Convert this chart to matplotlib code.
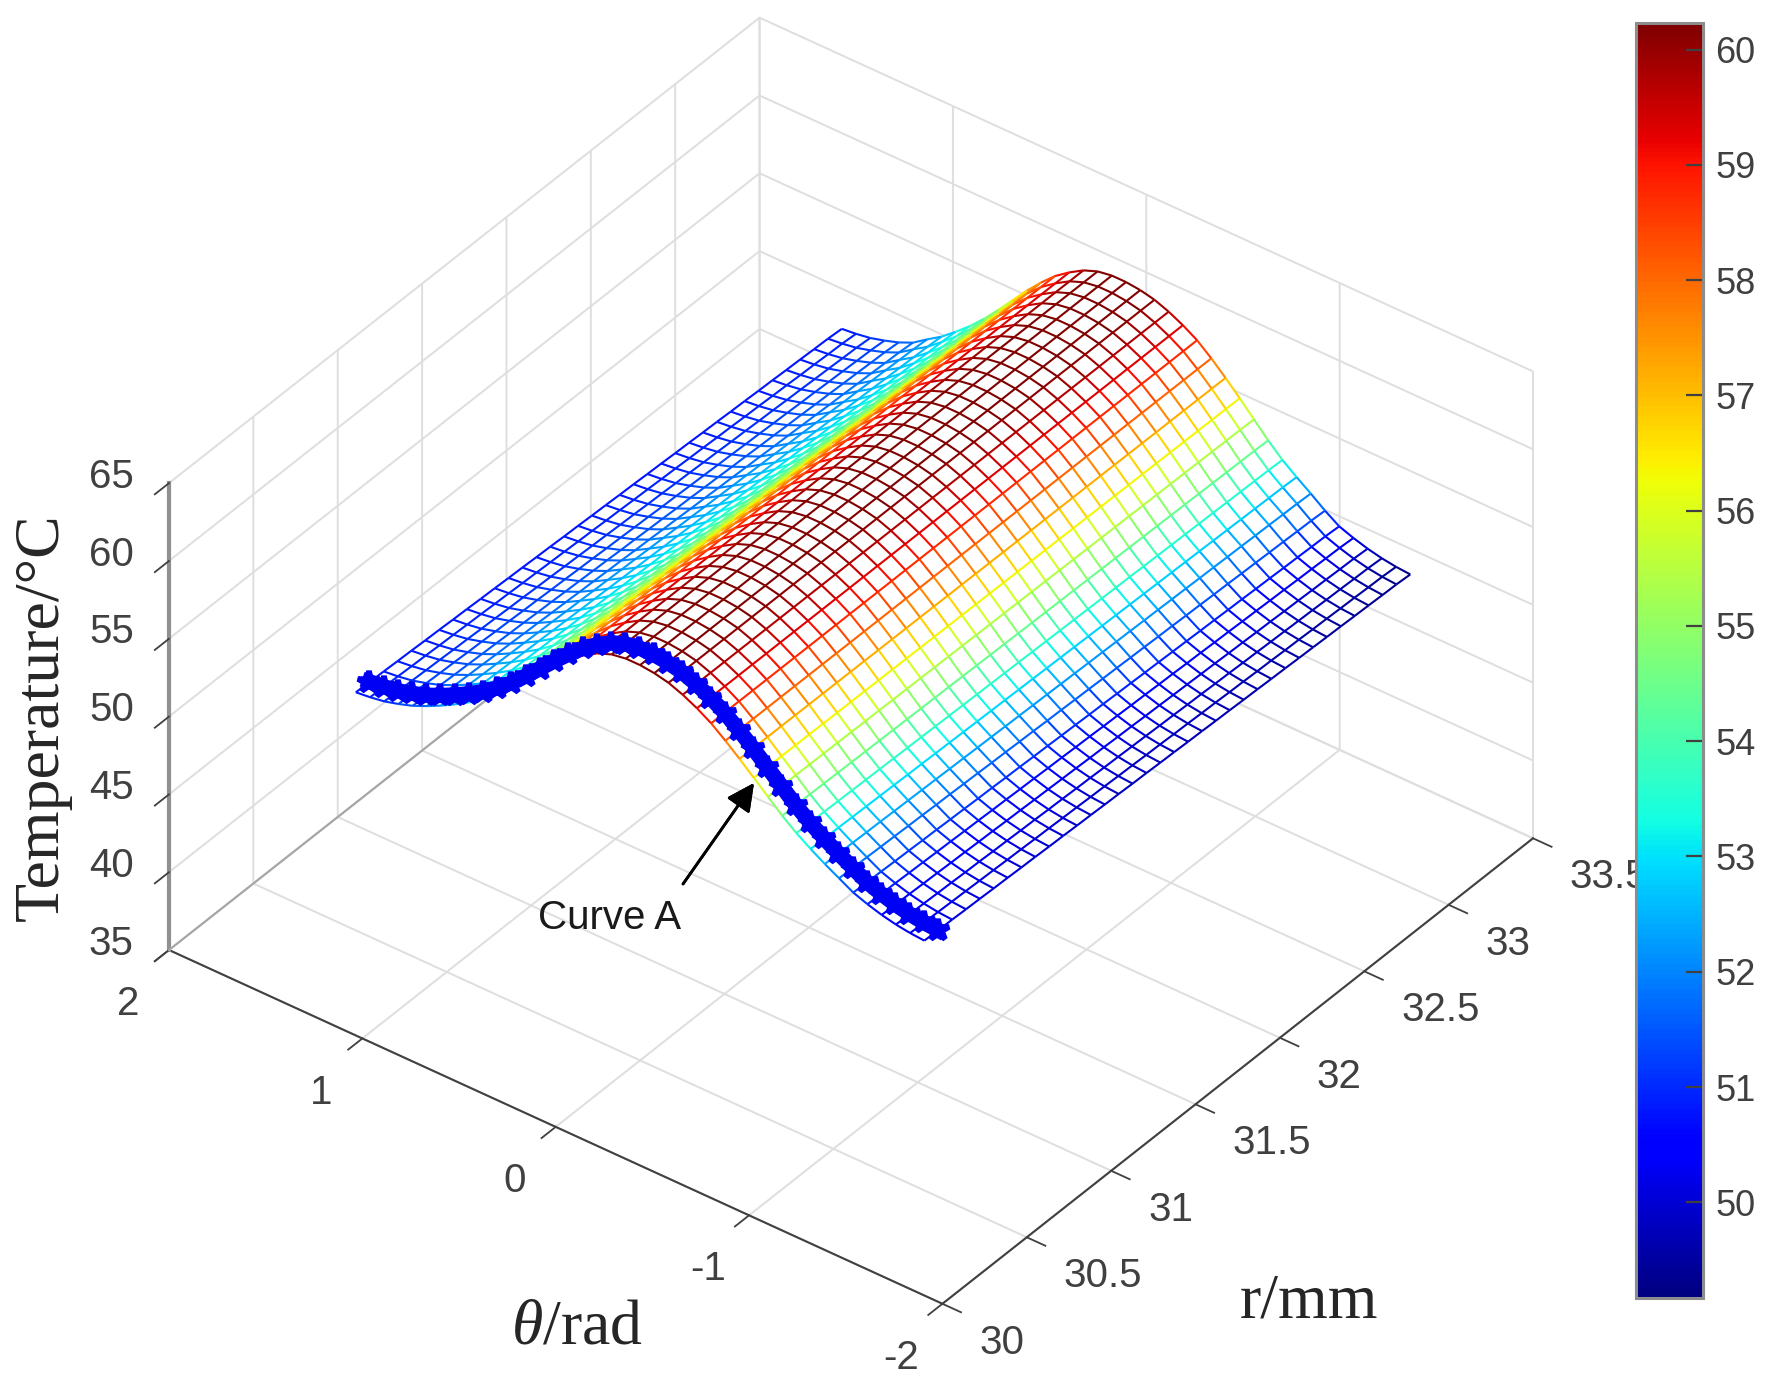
#!/usr/bin/env python3
"""Temperature mesh over r and theta with Curve A marked."""

from __future__ import annotations

import matplotlib

matplotlib.use("Agg")
import matplotlib.pyplot as plt
import numpy as np
from matplotlib.cm import ScalarMappable
from matplotlib.colors import Normalize
from mpl_toolkits.mplot3d import proj3d
from mpl_toolkits.mplot3d.art3d import Line3DCollection

R_MM = [30.5, 30.582, 30.665, 30.747, 30.829, 30.911, 30.994, 31.076, 31.158, 31.24, 31.323, 31.405,
        31.487, 31.57, 31.652, 31.734, 31.817, 31.899, 31.981, 32.063, 32.146, 32.228, 32.31, 32.393,
        32.475, 32.557, 32.64, 32.722, 32.804, 32.886, 32.969, 33.051, 33.133, 33.216, 33.298, 33.38]
THETA_RAD = [-1.47, -1.3965, -1.323, -1.2495, -1.176, -1.1025, -1.029, -0.9555, -0.882, -0.8085,
             -0.735, -0.6615, -0.588, -0.5145, -0.441, -0.3675, -0.294, -0.2205, -0.147, -0.0735,
             0.0, 0.0735, 0.147, 0.2205, 0.294, 0.3675, 0.441, 0.5145, 0.588, 0.6615,
             0.735, 0.8085, 0.882, 0.9555, 1.029, 1.1025, 1.176, 1.2495, 1.323, 1.3965, 1.47]
TEMP_C = [51.05, 51.12, 51.25, 51.45, 51.72, 52.05, 52.55, 53.05, 53.6, 54.2,
          54.9, 55.7, 56.5, 57.3, 58.05, 58.75, 59.3, 59.75, 60.1, 60.3,
          60.4, 60.4, 60.25, 59.9, 59.35, 58.7, 57.9, 57.05, 56.15, 55.25,
          54.4, 53.65, 53.0, 52.45, 51.95, 51.5, 51.1, 50.8, 50.55, 50.4, 50.3]
# colours read along the near edge, they sit a bit off the heights in the tails
COLOUR_C = [50.2, 50.25, 50.35, 50.55, 50.85, 51.25, 51.8, 52.4, 53.0, 53.7,
            54.5, 55.4, 56.3, 57.2, 58.05, 58.75, 59.3, 59.75, 60.1, 60.3,
            60.4, 60.4, 60.25, 59.9, 59.35, 58.7, 57.9, 57.05, 56.15, 55.25,
            54.4, 53.65, 53.05, 52.6, 52.2, 51.8, 51.5, 51.25, 51.05, 50.9, 50.8]
COLOUR_WEIGHT = [1.0, 1.0, 0.9, 0.8, 0.7, 0.6, 0.5, 0.4, 0.3, 0.2, 0.1] + [0.0] * 30
TEMP_WEIGHT = [1.2, 1.2, 1.2, 1.2, 1.2, 1.2, 1.1, 0.9, 0.8, 0.7, 0.55, 0.4, 0.25, 0.15, 0.05,
               0.0, 0.0, 0.0, 0.0, 0.0, 0.0, 0.0, 0.0, 0.0, 0.0, 0.0,
               0.05, 0.15, 0.3, 0.45, 0.6, 0.75, 0.9, 1.1, 1.2, 1.4, 1.4, 1.4, 1.4, 1.4, 1.4]
FAR_DROP = [0.0, 0.03, 0.05, 0.08, 0.1, 0.13, 0.15, 0.18, 0.2, 0.23, 0.25, 0.28,
            0.3, 0.33, 0.35, 0.38, 0.4, 0.43, 0.45, 0.48, 0.5, 0.53, 0.55, 0.58,
            0.6, 0.63, 0.65, 0.68, 0.7, 0.73, 0.75, 0.78, 0.8, 0.83, 0.85, 0.9]
CURVE_R = 30.58

R_TICKS = [30, 30.5, 31, 31.5, 32, 32.5, 33, 33.5]
THETA_TICKS = [-2, -1, 0, 1, 2]
TEMP_TICKS = [35, 40, 45, 50, 55, 60, 65]
CBAR_TICKS = [50, 51, 52, 53, 54, 55, 56, 57, 58, 59, 60]
CBAR_MIN = 49.17
CBAR_MAX = 60.23

W, H = 1770, 1382
TICK_GREY = "#404040"
GRID_GREY = "#dedede"


def mesh_segments(r, theta, temp, colour):
    segs, vals = [], []
    for i in range(len(r)):
        for j in range(len(theta)):
            if j + 1 < len(theta):
                segs.append([(r[i], theta[j], temp[i, j]), (r[i], theta[j + 1], temp[i, j + 1])])
                vals.append(0.5 * (colour[i, j] + colour[i, j + 1]))
            if i + 1 < len(r):
                segs.append([(r[i], theta[j], temp[i, j]), (r[i + 1], theta[j], temp[i + 1, j])])
                vals.append(0.5 * (colour[i, j] + colour[i + 1, j]))
    return segs, np.array(vals)


def corner_px(ax, x, y, z):
    px, py, _ = proj3d.proj_transform(x, y, z, ax.get_proj())
    return ax.transData.transform((px, py))


def fit_axes(fig, ax):
    """Scale and shift the 3D box onto the corners measured in the picture."""
    left_target = np.array([169.0, H - 950.0])
    right_target = np.array([1533.0, H - 838.0])
    fig.canvas.draw()
    left = corner_px(ax, 30, 2, 35)
    right = corner_px(ax, 33.5, -2, 35)
    pos = ax.get_position()
    scale = (right_target[0] - left_target[0]) / (right[0] - left[0])
    size_w, size_h = pos.width * scale, pos.height * scale
    ax.set_position([0, 0, size_w, size_h])
    fig.canvas.draw()
    left = corner_px(ax, 30, 2, 35)
    ax.set_position([(left_target[0] - left[0]) / W, (left_target[1] - left[1]) / H, size_w, size_h])


def main() -> int:
    plt.rcParams["font.family"] = ["Liberation Sans", "DejaVu Sans"]
    plt.rcParams["mathtext.fontset"] = "custom"
    plt.rcParams["mathtext.rm"] = "Liberation Serif"
    plt.rcParams["mathtext.it"] = "Liberation Serif:italic"

    r = np.array(R_MM)
    theta = np.array(THETA_RAD)
    temp = np.tile(np.array(TEMP_C), (len(r), 1)) - np.outer(FAR_DROP, TEMP_WEIGHT)
    colour = np.tile(np.array(COLOUR_C), (len(r), 1)) - np.outer(FAR_DROP, COLOUR_WEIGHT)

    fig = plt.figure(figsize=(W / 100, H / 100), dpi=100)
    ax = fig.add_axes([0.1, 0.1, 0.6, 0.6], projection="3d", proj_type="ortho")
    ax.computed_zorder = False
    ax.view_init(elev=36.9, azim=-142.7)
    ax.set_box_aspect((863, 861, 517))
    ax.set_xlim(30, 33.5)
    ax.set_ylim(-2, 2)
    ax.set_zlim(35, 65)
    ax.patch.set_alpha(0)

    # white sheet under the mesh so the walls do not show through it
    rr, tt = np.meshgrid(r, theta, indexing="ij")
    ax.plot_surface(rr, tt, temp, color="white", shade=False, rstride=1, cstride=1,
                    edgecolor="white", linewidth=0.4, zorder=2)

    norm = Normalize(CBAR_MIN, CBAR_MAX)
    segs, vals = mesh_segments(r, theta, temp, colour)
    mesh = Line3DCollection(segs, cmap="jet", norm=norm, linewidths=1.5, zorder=3)
    mesh.set_array(vals)
    ax.add_collection3d(mesh)
    ax.plot(np.full(len(theta), CURVE_R), theta, TEMP_C, linestyle="-", linewidth=11, marker="*",
            markersize=16, markeredgewidth=4, color="#0000f5", zorder=4)
    # floor edge along the theta = 2 wall is darker than the grid
    ax.plot(R_TICKS[:1] + R_TICKS[-1:], THETA_TICKS[-1:] * 2, TEMP_TICKS[:1] * 2, color="#a6a6a6",
            linewidth=1.5, zorder=1)

    ax.set_xticks(R_TICKS, [f"{v:g}" for v in R_TICKS])
    ax.set_yticks(THETA_TICKS, [str(v) for v in THETA_TICKS])
    ax.set_zticks(TEMP_TICKS, [str(v) for v in TEMP_TICKS])
    for axis in (ax.xaxis, ax.yaxis, ax.zaxis):
        axis.set_pane_color((1, 1, 1, 0))
        axis.pane.set_edgecolor("none")
        axis._axinfo["grid"].update(color=GRID_GREY, linewidth=1.4)
        axis._axinfo["tick"].update(inward_factor=0.3, outward_factor=0.0, linewidth={True: 1.3, False: 1.0},
                                    color=TICK_GREY)
        axis.line.set_color(TICK_GREY)
        axis.line.set_linewidth(1.5)
    ax.zaxis.line.set_color("#909090")
    ax.zaxis.line.set_linewidth(3)
    ax.tick_params(axis="x", labelsize=29, labelcolor=TICK_GREY, colors=TICK_GREY, pad=18)
    ax.tick_params(axis="y", labelsize=29, labelcolor=TICK_GREY, colors=TICK_GREY, pad=30)
    ax.tick_params(axis="z", labelsize=29, labelcolor=TICK_GREY, colors=TICK_GREY, pad=15)
    for label in ax.xaxis.get_ticklabels():
        label.set_ha("left")
        label.set_va("center")
    for label in ax.yaxis.get_ticklabels():
        label.set_va("baseline")
    for label in ax.zaxis.get_ticklabels():
        label.set_va("baseline")

    fit_axes(fig, ax)

    cax = fig.add_axes([1636 / W, 1 - 1298 / H, 67 / W, 1275 / H], zorder=5)
    cbar = fig.colorbar(ScalarMappable(norm=norm, cmap="jet"), cax=cax, ticks=CBAR_TICKS)
    cbar.outline.set_edgecolor("#8c8c8c")
    cbar.outline.set_linewidth(2.2)
    cbar.ax.tick_params(direction="in", length=12, width=1.6, color="#404040", labelsize=26,
                        labelcolor=TICK_GREY, pad=9)

    serif = ["Liberation Serif", "DejaVu Serif"]
    fig.text(43 / W, 1 - 717 / H, "Temperature/°C", rotation=90, ha="center", va="center",
             family=serif, fontsize=46, color="#262626")
    fig.text(577 / W, 1 - 1329 / H, r"$\mathit{\theta}$/rad", ha="center", va="center",
             family=serif, fontsize=46, color="#262626")
    fig.text(1309 / W, 1 - 1302 / H, "r/mm", ha="center", va="center",
             family=serif, fontsize=46, color="#262626")
    fig.text(610 / W, 1 - 918 / H, "Curve A", ha="center", va="center", fontsize=29, color="#1a1a1a")
    fig.add_artist(
        plt.annotate(
            "",
            xy=(754 / W, 1 - 783 / H),
            xytext=(683 / W, 1 - 884 / H),
            xycoords="figure fraction",
            textcoords="figure fraction",
            arrowprops=dict(arrowstyle="-|>", mutation_scale=42, lw=2, color="black", shrinkA=0, shrinkB=0),
        )
    )

    fig.savefig("out.png", dpi=100)
    plt.close(fig)
    return 0


if __name__ == "__main__":
    raise SystemExit(main())
